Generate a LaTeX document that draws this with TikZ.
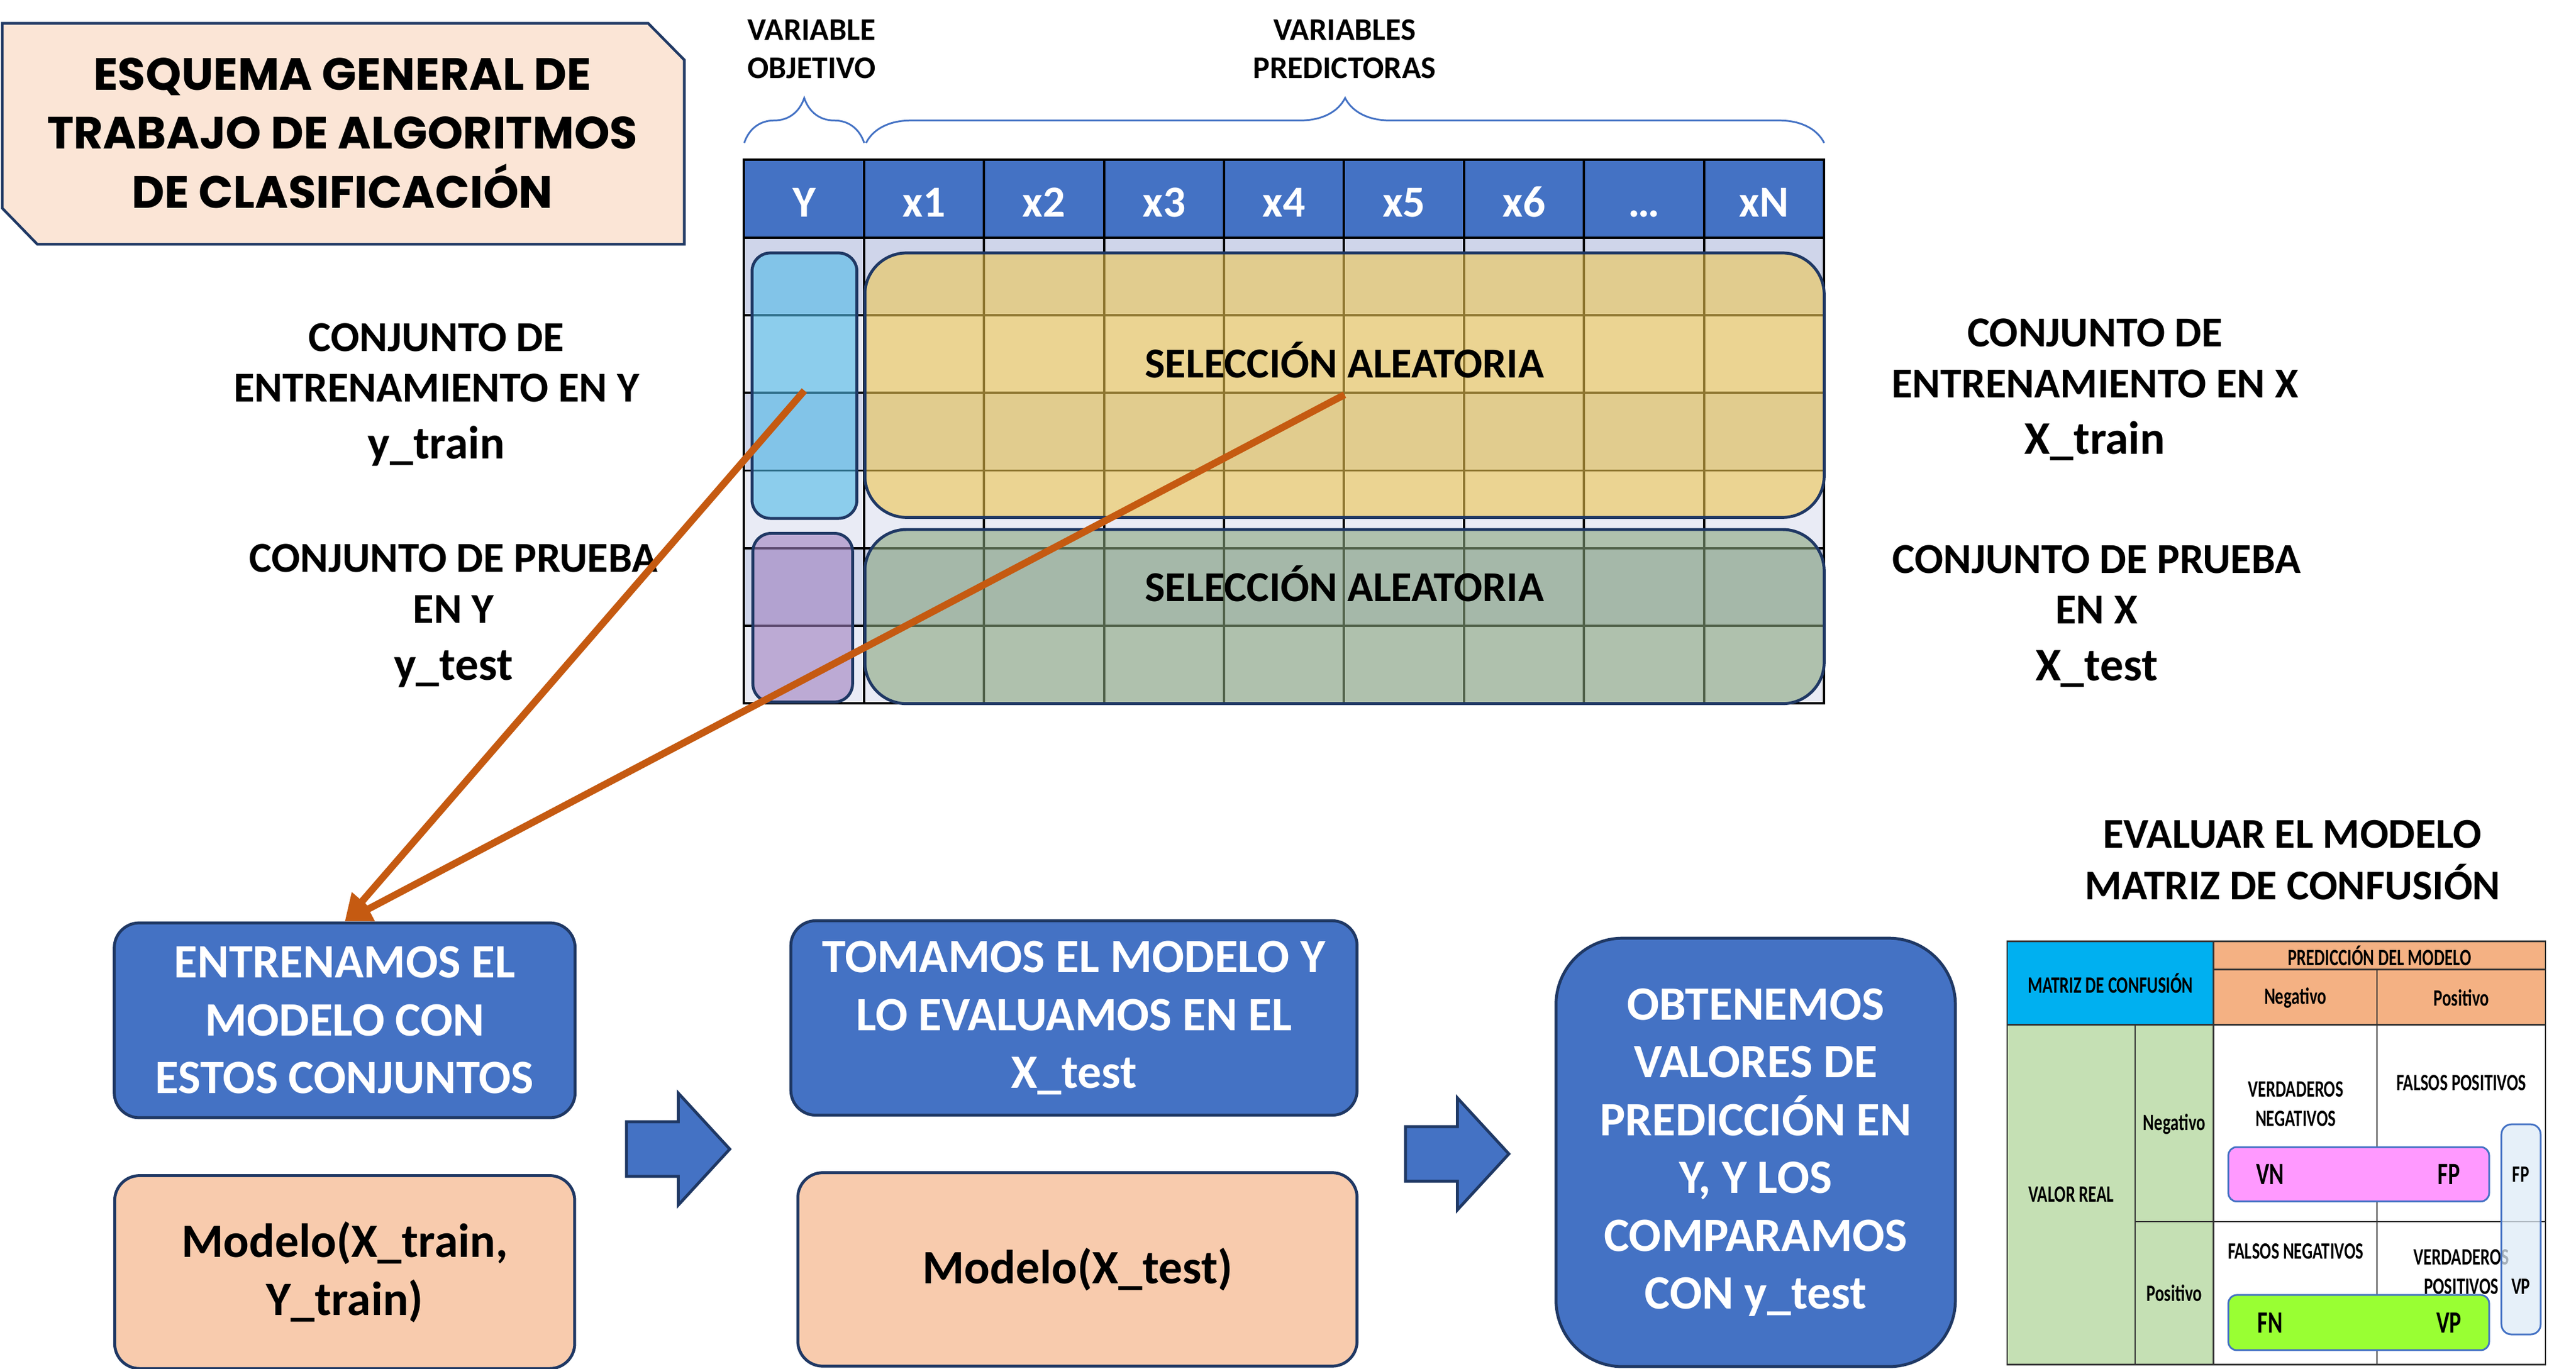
\documentclass[tikz,border=0pt]{standalone}
\usepackage{fontspec}
\setmainfont{Carlito}
\newfontfamily\titlefont{Poppins}
\newfontfamily\narrowfont{Carlito}[FakeStretch=0.72]
\usetikzlibrary{arrows.meta,positioning,fit,decorations.pathreplacing}

\definecolor{headblue}{HTML}{4472C4}
\definecolor{navy}{HTML}{1F3864}
\definecolor{peach}{HTML}{F8CBAD}
\definecolor{titlepeach}{HTML}{FBE5D6}
\definecolor{rowdark}{HTML}{CFD5EA}
\definecolor{rowlight}{HTML}{E9EBF5}
\definecolor{bluesel}{RGB}{79,186,231}
\definecolor{yellowsel}{RGB}{237,198,81}
\definecolor{purplesel}{RGB}{159,128,191}
\definecolor{greensel}{RGB}{137,165,126}
\definecolor{pickorange}{HTML}{C55A11}
\definecolor{matcyan}{HTML}{00B0F0}
\definecolor{matorange}{HTML}{F4B183}
\definecolor{matgreen}{HTML}{C5E0B4}
\definecolor{vnpink}{HTML}{FF99FF}
\definecolor{vplime}{HTML}{99FF33}
\definecolor{colblue}{HTML}{DEEBF7}

\tikzset{
     headcell/.style = { draw=black, line width=0.4pt, fill=headblue, text=white, inner sep=0pt,
                         text height=0.63em, text depth=0pt,
                         minimum width=7.22mm, minimum height=4.68mm, font=\bfseries\fontsize{7.6}{9}\selectfont },
     bracetop/.style = { draw=headblue, line width=0.3pt, decorate, decoration={brace,amplitude=7.7pt} },
      toptext/.style = { align=center, inner sep=0pt, font=\bfseries\fontsize{5.4}{6.5}\selectfont },
       selbox/.style = { draw=navy, line width=0.5pt, fill opacity=0.6, inner sep=0pt },
      seltext/.style = { inner sep=0pt, font=\bfseries\fontsize{7.3}{8.7}\selectfont },
    sidelabel/.style = { align=center, inner sep=0pt, font=\bfseries\fontsize{7.3}{8.7}\selectfont },
      taskbox/.style = { draw=navy, line width=0.5pt, fill=headblue, text=white, rounded corners=1.5mm,
                         align=center, inner sep=0pt, font=\bfseries\fontsize{8.2}{9.9}\selectfont },
     modelbox/.style = { taskbox, fill=peach, text=black },
   blockarrow/.style = { draw=navy, line width=0.5pt, fill=headblue },
         pick/.style = { draw=pickorange, line width=1.2pt, -{Triangle[length=4.6pt,width=4.4pt]} },
      matline/.style = { draw=black!80, line width=0.25pt },
      mattext/.style = { align=center, inner sep=0pt, font=\narrowfont\bfseries\fontsize{4}{5}\selectfont },
       matbar/.style = { draw=headblue, line width=0.3pt, rounded corners=0.5mm, inner sep=0pt },
       barkey/.style = { inner sep=0pt, font=\narrowfont\bfseries\fontsize{5.3}{6}\selectfont }
}

\begin{document}
\begin{tikzpicture}[x=0.1mm, y=-0.1mm]
  \useasboundingbox (0,0) rectangle (1550,823.4);

  % title
  \draw[navy, line width=0.45pt, fill=titlepeach] (1.4,14) -- (390,14) -- (411.7,36) -- (411.7,147)
        -- (22.5,147) -- (1.4,125.3) -- cycle;
  \node[align=center, font=\titlefont\bfseries\fontsize{7.75}{10.1}\selectfont] (title) at (206,80)
        {ESQUEMA GENERAL DE\\TRABAJO DE ALGORITMOS\\DE CLASIFICACIÓN};

  % table body
  \foreach \r in {0,2,4} \fill[rowdark]  (447.7,143+46.7*\r) rectangle (1097.6,189.7+46.7*\r);
  \foreach \r in {1,3,5} \fill[rowlight] (447.7,143+46.7*\r) rectangle (1097.6,189.7+46.7*\r);
  \foreach \c in {1,...,8} \draw[line width=0.4pt] (447.7+72.2*\c,143) -- (447.7+72.2*\c,423.2);
  \foreach \r in {1,...,5} \draw[line width=0.4pt] (447.7,143+46.7*\r) -- (1097.6,143+46.7*\r);
  \draw[line width=0.4pt] (447.7,143) rectangle (1097.6,423.2);

  % header
  \foreach \txt [count=\i from 0] in {Y,x1,x2,x3,x4,x5,x6,\ldots,xN}
    \node[headcell] (h\i) at (483.8+72.2*\i,119.6) {\txt};

  % braces
  \draw[bracetop] (447.8,86) -- (520,86);
  \draw[bracetop] (521.1,86) -- (1097.6,86);
  \node[toptext] (target) at (488.4,29.5) {VARIABLE\\OBJETIVO};
  \node[toptext] (predictors) at (809,29.5) {VARIABLES\\PREDICTORAS};

  % selections
  \node[selbox, fill=bluesel, rounded corners=1.1mm, fit={(452.5,152.2) (515.6,311.9)}] (trainY) {};
  \node[selbox, fill=yellowsel, rounded corners=2.5mm, fit={(520.4,152.2) (1097.6,311.3)}] (trainX) {};
  \node[selbox, fill=purplesel, rounded corners=1.1mm, fit={(453,320.9) (513,422.4)}] (testY) {};
  \node[selbox, fill=greensel, rounded corners=2.5mm, fit={(520.4,318.6) (1097.6,423.4)}] (testX) {};
  \node[seltext] (selTrain) at (809,216.5) {SELECCIÓN ALEATORIA};
  \node[seltext] (selTest) at (809,351.2) {SELECCIÓN ALEATORIA};

  % side labels
  \node[sidelabel] (trainYlabel) at (262.6,237.5)
        {CONJUNTO DE\\ENTRENAMIENTO EN Y\\[1pt]{\fontsize{8}{9}\selectfont y\_train}};
  \node[sidelabel] (testYlabel) at (272.8,370.5)
        {CONJUNTO DE PRUEBA\\EN Y\\[1pt]{\fontsize{8}{9}\selectfont y\_test}};
  \node[sidelabel] (trainXlabel) at (1260.5,234.5)
        {CONJUNTO DE\\ENTRENAMIENTO EN X\\[1pt]{\fontsize{8}{9}\selectfont X\_train}};
  \node[sidelabel] (testXlabel) at (1261.5,370.7)
        {CONJUNTO DE PRUEBA\\EN X\\[1pt]{\fontsize{8}{9}\selectfont X\_test}};

  % workflow
  \node[taskbox, minimum width=27.73mm, minimum height=11.72mm] (train) at (207.4,613.9)
        {ENTRENAMOS EL\\MODELO CON\\ESTOS CONJUNTOS};
  \node[modelbox, minimum width=27.68mm, minimum height=11.61mm, below=3.31mm of train] (fitTrain)
        {Modelo(X\_train,\\Y\_train)};
  \node[taskbox, minimum width=34.07mm, minimum height=11.7mm] (evaluate) at (646.2,612.5)
        {TOMAMOS EL MODELO Y\\LO EVALUAMOS EN EL\\X\_test};
  \node[modelbox, minimum width=33.65mm, minimum height=11.64mm] (fitTest) at (648.3,763.8)
        {Modelo(X\_test)};
  \node[taskbox, minimum width=24.03mm, minimum height=25.78mm, rounded corners=4mm] (compare) at (1056.4,693.4)
        {OBTENEMOS\\VALORES DE\\PREDICCIÓN EN\\Y, Y LOS\\COMPARAMOS\\CON y\_test};

  \foreach \ax/\ay in {376.9/691.4, 845.7/694.3}
    \draw[blockarrow] (\ax,\ay-16.4) -- ++(31.2,0) -- ++(0,-17.3) -- ++(31,33.7) -- ++(-31,33.7)
          -- ++(0,-17.3) -- ++(-31.2,0) -- cycle;

  % confusion matrix
  \node[align=center, inner sep=0pt, font=\bfseries\fontsize{7.25}{8.8}\selectfont] (evaltitle) at (1379.4,517.5)
        {EVALUAR EL MODELO\\MATRIZ DE CONFUSIÓN};
  \fill[matcyan]   (1207.7,566.4) rectangle (1331.9,616.6);
  \fill[matorange] (1331.9,566.4) rectangle (1531.6,616.6);
  \fill[matgreen]  (1207.7,616.6) rectangle (1331.9,821);
  \draw[matline] (1207.7,566.4) rectangle (1531.6,821);
  \draw[matline] (1331.9,566.4) -- (1331.9,821);
  \draw[matline] (1207.7,616.6) -- (1531.6,616.6);
  \draw[matline] (1331.9,583.4) -- (1531.6,583.4);
  \draw[matline] (1430.3,583.4) -- (1430.3,821);
  \draw[matline] (1284.7,616.6) -- (1284.7,821);
  \draw[matline] (1284.7,735) -- (1531.6,735);

  \node[mattext] (mname) at (1269.8,591.5) {MATRIZ DE CONFUSIÓN};
  \node[mattext] (mpred) at (1431.8,575) {PREDICCIÓN DEL MODELO};
  \node[mattext] (mpneg) at (1381.1,600.3) {Negativo};
  \node[mattext] (mppos) at (1481,600.3) {Positivo};
  \node[mattext] (mreal) at (1246.2,718.6) {VALOR REAL};
  \node[mattext] (mrneg) at (1308.3,676.4) {Negativo};
  \node[mattext] (mrpos) at (1308.3,778) {Positivo};
  \node[mattext] (mvn) at (1381.3,664.3) {VERDADEROS\\NEGATIVOS};
  \node[mattext] (mfp) at (1481,651.5) {FALSOS POSITIVOS};
  \node[mattext] (mfn) at (1381.3,753.1) {FALSOS NEGATIVOS};
  \node[mattext] (mvp) at (1481,765.4) {VERDADEROS\\POSITIVOS};

  \node[matbar, fill=vnpink, fit={(1340.8,690.2) (1497.7,722.9)}] (negbar) {};
  \node[matbar, fill=vplime, fit={(1340.8,779.2) (1497.7,812.4)}] (posbar) {};
  \node[barkey] (kvn) at (1366,706.6) {VN};
  \node[barkey] (kfp) at (1473.5,706.6) {FP};
  \node[barkey] (kfn) at (1366,795.8) {FN};
  \node[barkey] (kvp) at (1473.5,795.8) {VP};
  \node[matbar, fill=colblue, fill opacity=0.75, rounded corners=0.6mm, fit={(1505.1,676.5) (1528.7,802.9)}] (posbox) {};
  \node[mattext] (cfp) at (1516.8,706.6) {FP};
  \node[mattext] (cvp) at (1516.8,774.2) {VP};

  % picks
  \coordinate (pickY) at (484,235);
  \coordinate (pickX) at (809,237.5);
  \draw[pick] (pickY) -- (train.north);
  \draw[pick] (pickX) -- (train.north);
\end{tikzpicture}
\end{document}
